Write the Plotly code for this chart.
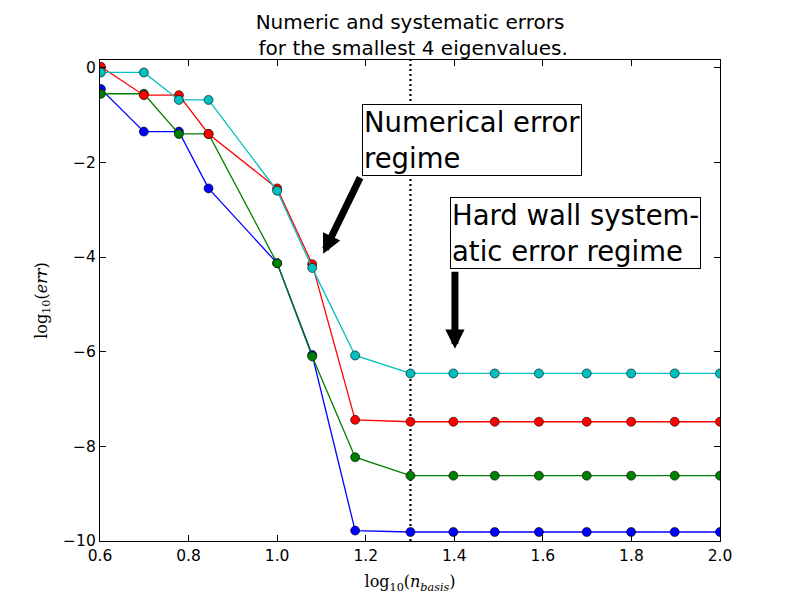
import numpy as np
import plotly.graph_objects as go

# ---- data ----
n_basis = [4, 5, 6, 7, 10, 12, 15, 20, 25, 31, 39, 50, 63, 79, 100]
err_eig1 = [-0.45, -1.35, -1.35, -2.55, -4.13, -6.07, -9.78, -9.81, -9.81, -9.81, -9.81, -9.81, -9.81, -9.81, -9.81]
err_eig2 = [-0.55, -0.55, -1.40, -1.40, -4.13, -6.10, -8.23, -8.62, -8.62, -8.62, -8.62, -8.62, -8.62, -8.62, -8.62]
err_eig3 = [0.02, -0.58, -0.58, -1.40, -2.55, -4.15, -7.44, -7.48, -7.48, -7.48, -7.48, -7.48, -7.48, -7.48, -7.48]
err_eig4 = [-0.10, -0.10, -0.68, -0.68, -2.60, -4.23, -6.08, -6.46, -6.46, -6.46, -6.46, -6.46, -6.46, -6.46, -6.46]
series = [err_eig1, err_eig2, err_eig3, err_eig4]
colors = ["#0000ff", "#008000", "#ff0000", "#00bfbf"]
wall_n = 20
x_ticks = [0.6, 0.8, 1.0, 1.2, 1.4, 1.6, 1.8, 2.0]
y_ticks = [0, -2, -4, -6, -8, -10]
y_ticklabels = ["0", "\u22122", "\u22124", "\u22126", "\u22128", "\u221210"]

x = np.log10(n_basis)

fig = go.Figure()
for ys, c in zip(series, colors):
    fig.add_trace(go.Scatter(
        x=x, y=ys, mode="lines+markers",
        line=dict(color=c, width=1.3),
        marker=dict(color=c, size=9, line=dict(color="black", width=0.6)),
        showlegend=False,
    ))

fig.add_vline(x=np.log10(wall_n), line=dict(color="black", width=2.2, dash="2px,3px"), layer="below")

ann_font = dict(family="DejaVu Sans", size=27.5, color="black")
# text boxes
fig.add_annotation(x=1.1916, y=-1.52, xref="x", yref="y", xanchor="left", yanchor="middle",
                   text="Numerical error<br>regime", align="left", showarrow=False,
                   font=ann_font, bgcolor="white", bordercolor="black", borderwidth=1, borderpad=1)
fig.add_annotation(x=1.3903, y=-3.50, xref="x", yref="y", xanchor="left", yanchor="middle",
                   text="Hard wall system-<br>atic error regime", align="left", showarrow=False,
                   font=ann_font, bgcolor="white", bordercolor="black", borderwidth=1, borderpad=1)
# arrows
fig.add_annotation(x=1.104, y=-3.93, ax=1.189, ay=-2.29, xref="x", yref="y", axref="x", ayref="y",
                   text="", showarrow=True, arrowhead=2, arrowwidth=7, arrowsize=0.55, arrowcolor="black")
fig.add_annotation(x=1.4015, y=-5.94, ax=1.4015, ay=-4.28, xref="x", yref="y", axref="x", ayref="y",
                   text="", showarrow=True, arrowhead=2, arrowwidth=7, arrowsize=0.55, arrowcolor="black")

axis_common = dict(showline=True, linecolor="black", linewidth=1.2, mirror="allticks",
                   ticks="inside", ticklen=6, tickcolor="black", tickwidth=1,
                   showgrid=False, zeroline=False,
                   tickfont=dict(family="DejaVu Sans", size=15.5, color="black"))

fig.update_xaxes(range=[0.6, 2.0], tickvals=x_ticks, tickformat=".1f",
                 title=dict(text="log<sub>10</sub>(<i>n</i><sub><i>basis</i></sub>)",
                            font=dict(family="DejaVu Serif", size=16, color="black"), standoff=12),
                 **axis_common)
fig.update_yaxes(range=[-10, 0.163], tickvals=y_ticks, ticktext=y_ticklabels,
                 title=dict(text="log<sub>10</sub>(<i>err</i>)",
                            font=dict(family="DejaVu Serif", size=16, color="black"), standoff=11),
                 **axis_common)

fig.update_layout(
    width=800, height=600,
    margin=dict(l=100, r=80, t=60, b=59),
    plot_bgcolor="white", paper_bgcolor="white",
    title=dict(text="Numeric and systematic errors<br> for the smallest 4 eigenvalues.",
               x=0.5, xref="paper", y=0.952, yref="container", yanchor="top",
               font=dict(family="DejaVu Sans", size=20, color="black")),
)

fig.write_html("out.html")
